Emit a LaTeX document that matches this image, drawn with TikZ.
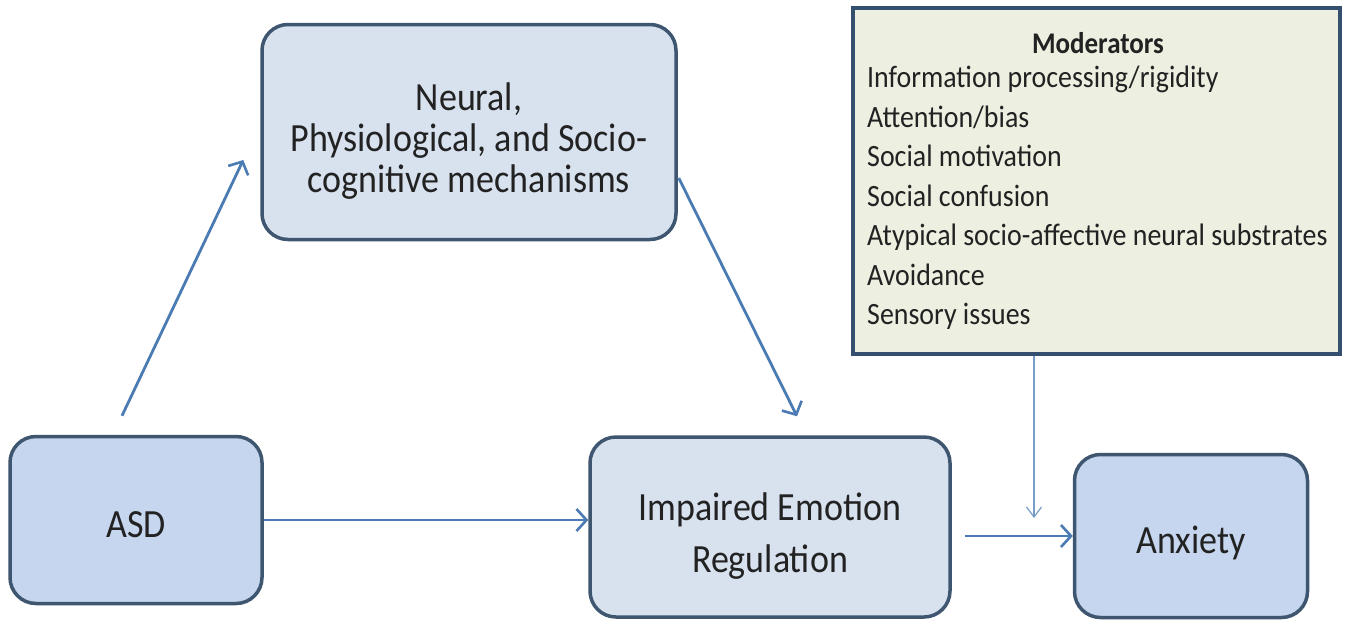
\documentclass[tikz,border=0pt]{standalone}
\usepackage{fontspec}
\setmainfont{Carlito}
\newfontfamily\narrowfont[FakeStretch=0.9]{Carlito}
\usetikzlibrary{arrows.meta,calc}
\definecolor{bordc}{HTML}{3E5670}
\definecolor{lightf}{HTML}{D8E2EF}
\definecolor{darkf}{HTML}{C5D6EE}
\definecolor{arrc}{HTML}{4A7BB3}
\definecolor{modf}{HTML}{EDEFE1}
\definecolor{modb}{HTML}{34506E}
\definecolor{textc}{HTML}{222222}
\tikzset{
  boxnode/.style={draw=bordc, line width=3.5pt, rounded corners=26pt, inner sep=0pt},
  boxtext/.style={align=center, font=\narrowfont\fontsize{40}{41}\selectfont, text=textc, inner sep=0pt},
  arr/.style={draw=arrc, line width=2.8pt, -{Straight Barb[length=10pt,width=22pt,line width=2.6pt]}},
  thinarr/.style={draw=arrc!75, line width=1.2pt, -{Straight Barb[length=10pt,width=15pt,line width=1.2pt]}}
}
\begin{document}
\begin{tikzpicture}[x=1pt,y=-1pt]
\useasboundingbox (0,0) rectangle (1347,622);
\fill[white] (0,0) rectangle (1347,622);
\node[boxnode, fill=lightf, minimum width=414pt, minimum height=215pt] (neural) at (469,132) {};
\node[boxtext] (neuralt) at ([yshift=-9pt]neural.center) {Neural,\\Physiological, and Socio-\\cognitive mechanisms};
\node[boxnode, fill=darkf, minimum width=252pt, minimum height=167pt] (asd) at (136,520) {};
\node[boxtext] (asdt) at ([yshift=-5pt]asd.center) {ASD};
\node[boxnode, fill=lightf, minimum width=360pt, minimum height=180pt] (impaired) at (770,527) {};
\node[boxtext, font=\narrowfont\fontsize{40}{52}\selectfont] (impairedt) at ([yshift=-9pt]impaired.center) {Impaired Emotion\\Regulation};
\node[boxnode, fill=darkf, minimum width=233pt, minimum height=163pt] (anxiety) at (1191,536) {};
\node[boxtext] (anxietyt) at ([yshift=-7pt]anxiety.center) {Anxiety};
\node[draw=modb, line width=4.5pt, fill=modf, minimum width=487pt, minimum height=346pt, inner sep=0pt] (mod) at (1096.5,181) {};
\node[font=\narrowfont\fontsize{30}{40}\selectfont\bfseries, text=textc, inner sep=0pt] (modtitle) at (1098,43) {Moderators};
\node[anchor=north west, align=left, font=\narrowfont\fontsize{31}{39.5}\selectfont, text=textc, inner sep=0pt] (modlist) at (867,66) {Information processing/rigidity\\Attention/bias\\Social motivation\\Social confusion\\Atypical socio-affective neural substrates\\Avoidance\\Sensory issues};
\coordinate (modtip) at (1034,518);
\draw[arr] ([shift={(-14,-19)}]asd.north) -- ([shift={(-17,28)}]neural.west);
\draw[arr] ([shift={(1,46)}]neural.east) -- ([shift={(27,-19)}]impaired.north);
\draw[arr] (asd.east) -- (asd.east -| impaired.west);
\draw[arr] ([xshift=13pt]impaired.east |- anxiety.west) -- (anxiety.west);
\draw[thinarr] (mod.south -| modtip) -- (modtip);
\end{tikzpicture}
\end{document}
